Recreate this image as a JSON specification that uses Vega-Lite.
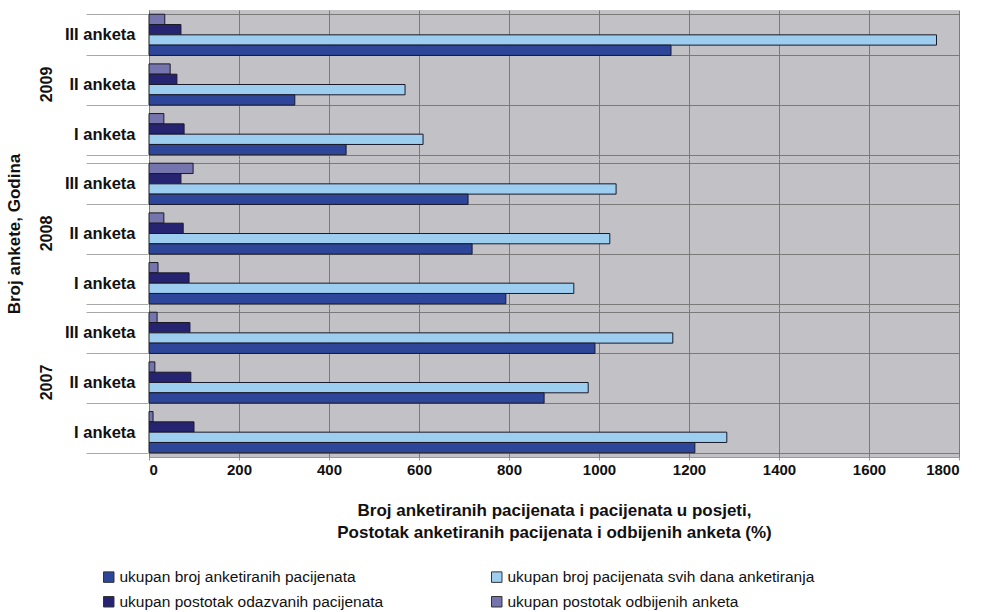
{
  "$schema": "https://vega.github.io/schema/vega-lite/v6.json",
  "background": "white",
  "padding": {"left": 6, "top": 2, "right": 20, "bottom": 5},
  "data": {"values": [
    {"year": "2009", "survey": "III anketa", "series": "ukupan postotak odbijenih anketa", "value": 35},
    {"year": "2009", "survey": "III anketa", "series": "ukupan postotak odazvanih pacijenata", "value": 71},
    {"year": "2009", "survey": "III anketa", "series": "ukupan broj pacijenata svih  dana anketiranja", "value": 1750},
    {"year": "2009", "survey": "III anketa", "series": "ukupan broj anketiranih pacijenata", "value": 1160},
    {"year": "2009", "survey": "II anketa", "series": "ukupan postotak odbijenih anketa", "value": 47},
    {"year": "2009", "survey": "II anketa", "series": "ukupan postotak odazvanih pacijenata", "value": 62},
    {"year": "2009", "survey": "II anketa", "series": "ukupan broj pacijenata svih  dana anketiranja", "value": 569},
    {"year": "2009", "survey": "II anketa", "series": "ukupan broj anketiranih pacijenata", "value": 324},
    {"year": "2009", "survey": "I anketa", "series": "ukupan postotak odbijenih anketa", "value": 33},
    {"year": "2009", "survey": "I anketa", "series": "ukupan postotak odazvanih pacijenata", "value": 78},
    {"year": "2009", "survey": "I anketa", "series": "ukupan broj pacijenata svih  dana anketiranja", "value": 609},
    {"year": "2009", "survey": "I anketa", "series": "ukupan broj anketiranih pacijenata", "value": 438},
    {"year": "2008", "survey": "III anketa", "series": "ukupan postotak odbijenih anketa", "value": 98},
    {"year": "2008", "survey": "III anketa", "series": "ukupan postotak odazvanih pacijenata", "value": 71},
    {"year": "2008", "survey": "III anketa", "series": "ukupan broj pacijenata svih  dana anketiranja", "value": 1038},
    {"year": "2008", "survey": "III anketa", "series": "ukupan broj anketiranih pacijenata", "value": 709},
    {"year": "2008", "survey": "II anketa", "series": "ukupan postotak odbijenih anketa", "value": 33},
    {"year": "2008", "survey": "II anketa", "series": "ukupan postotak odazvanih pacijenata", "value": 76},
    {"year": "2008", "survey": "II anketa", "series": "ukupan broj pacijenata svih  dana anketiranja", "value": 1024},
    {"year": "2008", "survey": "II anketa", "series": "ukupan broj anketiranih pacijenata", "value": 718},
    {"year": "2008", "survey": "I anketa", "series": "ukupan postotak odbijenih anketa", "value": 20},
    {"year": "2008", "survey": "I anketa", "series": "ukupan postotak odazvanih pacijenata", "value": 89},
    {"year": "2008", "survey": "I anketa", "series": "ukupan broj pacijenata svih  dana anketiranja", "value": 944},
    {"year": "2008", "survey": "I anketa", "series": "ukupan broj anketiranih pacijenata", "value": 793},
    {"year": "2007", "survey": "III anketa", "series": "ukupan postotak odbijenih anketa", "value": 18},
    {"year": "2007", "survey": "III anketa", "series": "ukupan postotak odazvanih pacijenata", "value": 91},
    {"year": "2007", "survey": "III anketa", "series": "ukupan broj pacijenata svih  dana anketiranja", "value": 1164},
    {"year": "2007", "survey": "III anketa", "series": "ukupan broj anketiranih pacijenata", "value": 991},
    {"year": "2007", "survey": "II anketa", "series": "ukupan postotak odbijenih anketa", "value": 13},
    {"year": "2007", "survey": "II anketa", "series": "ukupan postotak odazvanih pacijenata", "value": 93},
    {"year": "2007", "survey": "II anketa", "series": "ukupan broj pacijenata svih  dana anketiranja", "value": 976},
    {"year": "2007", "survey": "II anketa", "series": "ukupan broj anketiranih pacijenata", "value": 878},
    {"year": "2007", "survey": "I anketa", "series": "ukupan postotak odbijenih anketa", "value": 9},
    {"year": "2007", "survey": "I anketa", "series": "ukupan postotak odazvanih pacijenata", "value": 100},
    {"year": "2007", "survey": "I anketa", "series": "ukupan broj pacijenata svih  dana anketiranja", "value": 1284},
    {"year": "2007", "survey": "I anketa", "series": "ukupan broj anketiranih pacijenata", "value": 1213}
  ]},
  "facet": {
    "row": {
      "field": "year", "type": "nominal", "sort": "descending",
      "title": "Broj ankete, Godina",
      "header": {
        "labelAngle": -90, "labelOrient": "left", "labelAlign": "center", "labelBaseline": "middle",
        "labelFont": "Liberation Sans", "labelFontSize": 16, "labelFontWeight": "bold", "labelColor": "#111",
        "labelPadding": 1,
        "titleOrient": "left", "titleAngle": -90, "titleFont": "Liberation Sans", "titleFontSize": 17,
        "titleFontWeight": "bold", "titleColor": "#111", "titlePadding": -12
      }
    }
  },
  "spacing": 0,
  "spec": {
    "width": 810,
    "height": 149,
    "mark": {"type": "bar", "stroke": "#1a1a28", "strokeWidth": 1},
    "encoding": {
      "y": {
        "field": "survey", "type": "nominal",
        "sort": ["III anketa", "II anketa", "I anketa"],
        "scale": {"paddingInner": 0.17, "paddingOuter": 0.085},
        "axis": {
          "title": null, "domain": false, "tickBand": "extent", "ticks": true, "tickSize": 62,
          "tickColor": "#a8a8a8", "tickWidth": 1, "grid": true, "gridColor": "#7a7a7a",
          "labelPadding": -49, "labelFont": "Liberation Sans", "labelFontSize": 16.5,
          "labelFontWeight": "bold", "labelColor": "#111"
        }
      },
      "yOffset": {
        "field": "series",
        "sort": ["ukupan postotak odbijenih anketa", "ukupan postotak odazvanih pacijenata", "ukupan broj pacijenata svih  dana anketiranja", "ukupan broj anketiranih pacijenata"]
      },
      "x": {
        "field": "value", "type": "quantitative",
        "scale": {"domain": [0, 1800], "nice": false},
        "axis": {
          "values": [0, 200, 400, 600, 800, 1000, 1200, 1400, 1600, 1800], "format": "d",
          "title": ["Broj anketiranih pacijenata i pacijenata u posjeti,", "Postotak anketiranih pacijenata i odbijenih anketa (%)"],
          "titleFont": "Liberation Sans", "titleFontSize": 17, "titleFontWeight": "bold", "titleColor": "#111",
          "titleLineHeight": 22, "titlePadding": 25,
          "labelFont": "Liberation Sans", "labelFontSize": 15, "labelFontWeight": "bold", "labelColor": "#111",
          "labelPadding": 2, "domain": true, "domainColor": "#999", "tickColor": "#999", "tickSize": 3,
          "grid": true, "gridColor": "#7a7a7a"
        }
      },
      "color": {
        "field": "series", "type": "nominal",
        "scale": {
          "domain": ["ukupan broj anketiranih pacijenata", "ukupan broj pacijenata svih  dana anketiranja", "ukupan postotak odazvanih pacijenata", "ukupan postotak odbijenih anketa"],
          "range": ["#2d4699", "#9dcdef", "#262470", "#7574ad"]
        },
        "legend": {
          "title": null, "orient": "none", "legendX": -48, "legendY": 559, "direction": "horizontal", "columns": 2,
          "symbolType": "square", "symbolSize": 110, "symbolStrokeColor": "#333", "symbolStrokeWidth": 1,
          "labelFont": "Liberation Sans", "labelFontSize": 15.5, "labelColor": "#111", "labelLimit": 500,
          "columnPadding": 105, "rowPadding": 8, "labelOffset": 3
        }
      }
    }
  },
  "config": {
    "view": {"fill": "#c2c1c6", "stroke": null}
  }
}
